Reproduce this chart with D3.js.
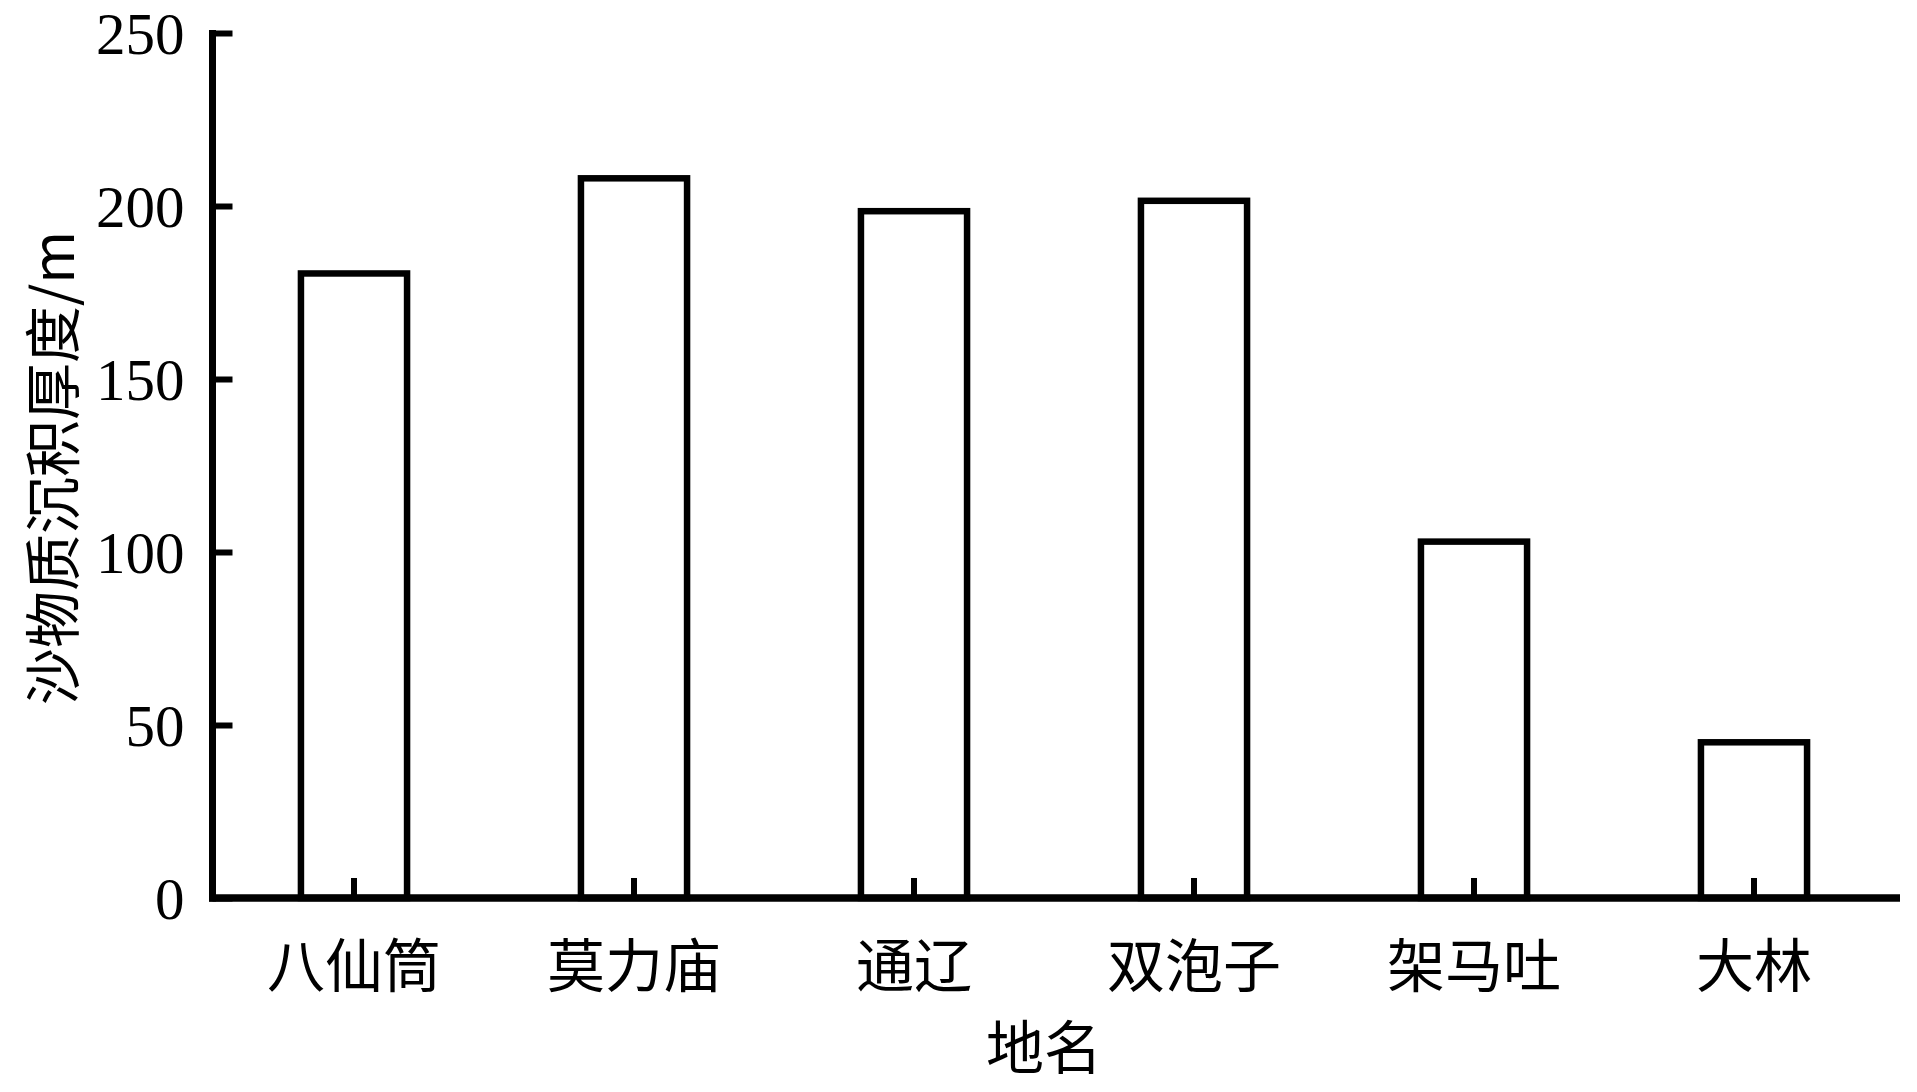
<!DOCTYPE html>
<html>
<head>
<meta charset="utf-8">
<script src="https://cdn.jsdelivr.net/npm/d3@7"></script>
<style>
  html, body { margin: 0; padding: 0; background: #fff; }
  svg { display: block; }
</style>
</head>
<body>
<svg id="chart" width="1917" height="1092"></svg>
<script>
// ---- data ----
const categories = ["八仙筒", "莫力庙", "通辽", "双泡子", "架马吐", "大林"];
const thickness = [180.5, 208, 198.5, 201.5, 103, 45];
const yTicks = [0, 50, 100, 150, 200, 250];
const yTitle = "沙物质沉积厚度/m";
const xTitle = "地名";

(function () {
// ---- layout ----
const plotLeft = 212.5, plotRight = 1900, plotTop = 33, plotBottom = 898;
const bandLeft = 214, bandRight = 1894;
const cjk = "'Noto Sans CJK SC', 'Noto Sans CJK JP', sans-serif";
const serif = "'Liberation Serif', 'Times New Roman', serif";

const svg = d3.select("#chart");

const x = d3.scaleBand()
  .domain(categories)
  .range([bandLeft, bandRight])
  .paddingInner(0.621)
  .paddingOuter(0.3105);

const y = d3.scaleLinear()
  .domain([0, 250])
  .range([plotBottom, plotTop]);

// bars
svg.append("g")
  .selectAll("rect")
  .data(categories)
  .join("rect")
  .attr("x", d => x(d))
  .attr("width", x.bandwidth())
  .attr("y", (d, i) => y(thickness[i]))
  .attr("height", (d, i) => y(0) - y(thickness[i]))
  .attr("fill", "#fff")
  .attr("stroke", "#000")
  .attr("stroke-width", 6.5);

// y axis
const yAxis = svg.append("g")
  .attr("transform", `translate(${plotLeft},0)`)
  .call(d3.axisLeft(y).tickValues(yTicks).tickSize(-20).tickSizeOuter(0).tickPadding(28));
yAxis.select(".domain").remove();
yAxis.selectAll(".tick line").attr("stroke", "#000").attr("stroke-width", 6);
yAxis.selectAll(".tick text")
  .attr("font-family", serif)
  .attr("font-size", 59)
  .attr("fill", "#000")
  .attr("dy", null)
  .attr("dominant-baseline", "central");

// x axis
const xAxis = svg.append("g")
  .attr("transform", `translate(0,${plotBottom})`)
  .call(d3.axisBottom(x).tickSize(-20).tickSizeOuter(0).tickPadding(0));
xAxis.select(".domain").remove();
xAxis.selectAll(".tick line").attr("stroke", "#000").attr("stroke-width", 6);
xAxis.selectAll(".tick text")
  .attr("font-family", cjk)
  .attr("font-size", 58)
  .attr("fill", "#000")
  .attr("y", 64)
  .attr("dy", null)
  .attr("dominant-baseline", "central");

// axis lines
svg.append("line")
  .attr("x1", plotLeft).attr("x2", plotLeft)
  .attr("y1", 30).attr("y2", plotBottom + 3.5)
  .attr("stroke", "#000").attr("stroke-width", 7);
svg.append("line")
  .attr("x1", plotLeft - 3.5).attr("x2", plotRight)
  .attr("y1", plotBottom).attr("y2", plotBottom)
  .attr("stroke", "#000").attr("stroke-width", 7.5);

// titles
svg.append("text")
  .attr("transform", `translate(49,468) rotate(-90)`)
  .attr("text-anchor", "middle")
  .attr("dominant-baseline", "central")
  .attr("font-family", cjk)
  .attr("font-size", 57)
  .attr("fill", "#000")
  .text(yTitle);

svg.append("text")
  .attr("x", 1044)
  .attr("y", 1044)
  .attr("text-anchor", "middle")
  .attr("dominant-baseline", "central")
  .attr("font-family", cjk)
  .attr("font-size", 58)
  .attr("fill", "#000")
  .text(xTitle);
})();
</script>
</body>
</html>
